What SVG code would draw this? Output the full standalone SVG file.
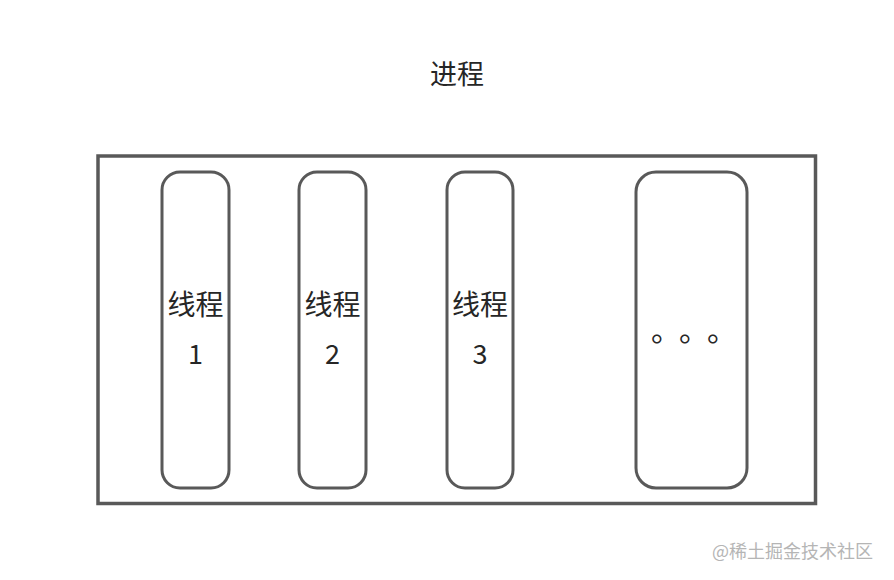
<svg xmlns="http://www.w3.org/2000/svg" width="894" height="580" viewBox="0 0 894 580">
<style>
.box{fill:#ffffff;stroke:#595959;stroke-width:3}
.outer{fill:#ffffff;stroke:#595959;stroke-width:3.5}
.t{font-family:"Noto Sans CJK SC","Noto Sans",sans-serif;fill:#262626;text-anchor:middle}
.wm{font-family:"Noto Sans CJK SC",sans-serif;fill:#b5b5b5;font-size:18px}
</style>
<rect width="894" height="580" fill="#ffffff"/>
<text class="t" x="457" y="84" font-size="27">进程</text>
<g id="process"><rect class="outer" x="98" y="156" width="717.5" height="347.5"/></g>
<g id="connectors"></g>
<g id="thread1">
<rect class="box" x="162" y="172" width="67" height="316" rx="18"/>
<text class="t" x="195.5" y="315" font-size="28">线程</text>
<text class="t" x="195.5" y="364" font-size="27">1</text>
</g>
<g id="thread2">
<rect class="box" x="299" y="172" width="67" height="316" rx="18"/>
<text class="t" x="332.5" y="315" font-size="28">线程</text>
<text class="t" x="332.5" y="364" font-size="27">2</text>
</g>
<g id="thread3">
<rect class="box" x="447" y="172" width="66" height="316" rx="18"/>
<text class="t" x="480" y="315" font-size="28">线程</text>
<text class="t" x="480" y="364" font-size="27">3</text>
</g>
<g id="thread4">
<rect class="box" x="636" y="172" width="111" height="316" rx="20"/>
<text class="t" x="666 694 722" y="341" font-size="30">。。。</text>
</g>
<text class="wm" x="712" y="558">@稀土掘金技术社区</text>
</svg>
